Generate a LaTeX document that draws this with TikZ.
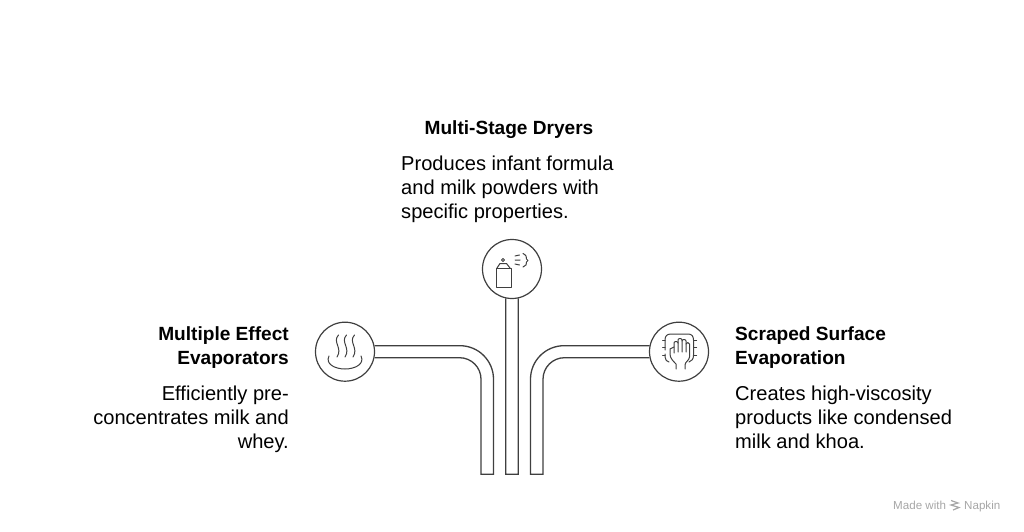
\documentclass[tikz,border=0pt]{standalone}
\usepackage{fontspec}
\setmainfont{Liberation Sans}
\usetikzlibrary{calc}
\definecolor{ink}{HTML}{3F3F3F}
\tikzset{
 hub/.style={circle,draw=ink,line width=1.2pt,minimum size=59pt,inner sep=0pt},
 tube/.style={draw=ink,line width=1.3pt,line join=miter},
 ico/.style={draw=ink,line width=1pt,line cap=round,line join=round},
 head/.style={font=\fontsize{19.1}{24}\selectfont\bfseries,text=black,inner sep=0pt},
 body/.style={font=\fontsize{20.1}{25}\selectfont,text=black,inner sep=0pt},
 foot/.style={font=\fontsize{11.6}{13}\selectfont,text=black!35,anchor=base west,inner sep=0pt},
}
\begin{document}
\begin{tikzpicture}[x=1pt,y=-1pt]
\useasboundingbox (0,0) rectangle (1024,532);
\node[hub] (L) at (345,351.7) {};
\node[hub] (T) at (512,269) {};
\node[hub] (R) at (679,351.7) {};
\coordinate (up) at (0,345.7);
\coordinate (lo) at (0,357.7);
% tubes
\draw[tube] (L.11.7 |- up) -- (460,345.7) arc[start angle=-90,end angle=0,radius=33.5] -- (493.5,474.3) -- (481,474.3) -- (481,379.2) arc[start angle=0,end angle=-90,radius=21.5] -- (L.-11.7 |- lo);
\draw[tube] (T.-102) -- (505.7,474.3) -- (518.3,474.3) -- (518.3,0 |- T.-78);
\draw[tube] (R.168.3 |- up) -- (564,345.7) arc[start angle=-90,end angle=-180,radius=33.5] -- (530.5,474.3) -- (543,474.3) -- (543,379.2) arc[start angle=180,end angle=270,radius=21.5] -- (R.191.7 |- lo);
% steam icon
\foreach \x in {337,345,353}{
 \draw[ico] (\x+1.5,335) .. controls (\x-5,342) and (\x+6,348) .. (\x,357);
}
\draw[ico] (329,356) .. controls (325,364) and (335,369) .. (345,369) .. controls (355,369) and (365,364) .. (361,356);
% spray icon
\draw[ico] (496,268) rectangle (511,287);
\draw[ico] (497,268) -- (500,263.5) -- (506.5,263.5) -- (510,268);
\draw[ico] (503,260) circle[radius=1.5];
\draw[ico] (515,256) -- (519.5,255) (515,260) -- (520,260) (515,264) -- (519.5,265);
\draw[ico] (523,253.5) .. controls (526,255) and (527,257) .. (526.5,259) -- (528,260.5) -- (526.5,262) .. controls (527,264) and (526,266) .. (523,267);
% hand icon
\draw[ico] (665,350) -- (665,340) .. controls (665,336) and (667,334) .. (671,334) -- (688,334) .. controls (691.5,334) and (693.5,336) .. (693.5,340) -- (693.5,355) .. controls (693.5,359) and (692,361) .. (689,362);
\draw[ico] (665,354) -- (665,357) .. controls (665,360) and (667,361.5) .. (669,362);
\foreach \y in {340,347,355}{\draw[ico] (662.5,\y) -- (665,\y) (693.5,\y) -- (696.5,\y);}
\draw[ico] (676,369) -- (676,364) .. controls (673,361) and (670,358) .. (670,354) -- (670,349) -- (674,347);
\draw[ico] (674,353) -- (674,343) .. controls (674,341) and (678,341) .. (678,343) -- (678,352);
\draw[ico] (678,343) -- (678,340) .. controls (678,338) and (682,338) .. (682,340) -- (682,352);
\draw[ico] (682,341) .. controls (682,339) and (686,339) .. (686,341) -- (686,352);
\draw[ico] (686,344) .. controls (686,342) and (689.5,342) .. (689.5,344) -- (689.5,357) .. controls (689.5,360) and (685,362) .. (685,365) -- (685,369);
% labels
\node[head,anchor=base] (th) at (509,134) {Multi-Stage Dryers};
\node[body,anchor=base west] (t1) at (401,170) {Produces infant formula};
\node[body,anchor=base west] (t2) at (401,194) {and milk powders with};
\node[body,anchor=base west] (t3) at (401,218) {specific properties.};
\node[head,anchor=base east] (l1) at (289,340) {Multiple Effect};
\node[head,anchor=base east] (l2) at (289,364) {Evaporators};
\node[body,anchor=base east] (l3) at (289,400) {Efficiently pre-};
\node[body,anchor=base east] (l4) at (289,424) {concentrates milk and};
\node[body,anchor=base east] (l5) at (289,448) {whey.};
\node[head,anchor=base west] (r1) at (735,340) {Scraped Surface};
\node[head,anchor=base west] (r2) at (735,364) {Evaporation};
\node[body,anchor=base west] (r3) at (735,400) {Creates high-viscosity};
\node[body,anchor=base west] (r4) at (735,424) {products like condensed};
\node[body,anchor=base west] (r5) at (735,448) {milk and khoa.};
% footer
\node[foot] (f1) at (893,509) {Made with};
\draw[black!35,line width=1.2pt] (951,500.5) -- (958,503) -- (951,505) -- (959,507.5) -- (953,510);
\node[foot] (f2) at (964,509) {Napkin};
\end{tikzpicture}
\end{document}
